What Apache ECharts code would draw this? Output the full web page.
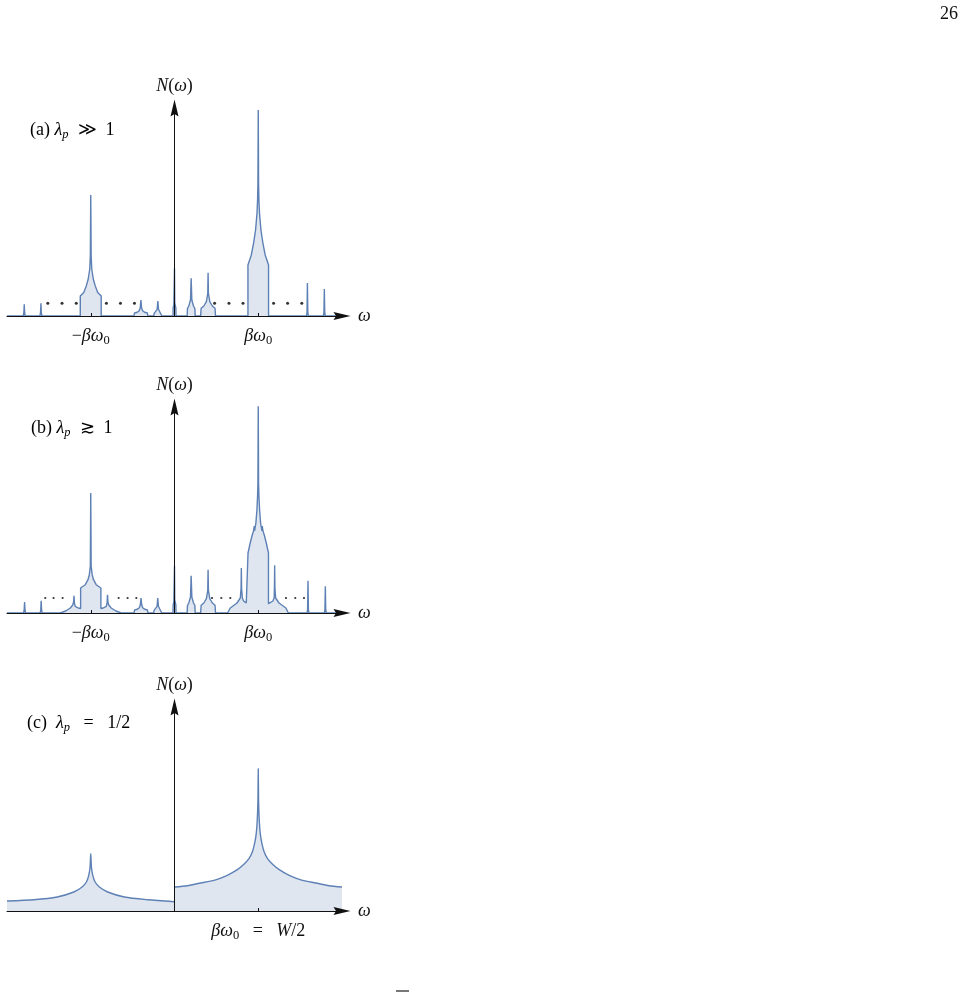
<!DOCTYPE html>
<html>
<head>
<meta charset="utf-8">
<script src="https://cdn.jsdelivr.net/npm/echarts@6/dist/echarts.min.js"></script>
<style>
html,body{margin:0;padding:0;background:#fff;}
#chart{width:966px;height:992px;}
</style>
</head>
<body>
<div id="chart"></div>
<script>
// ---------- data (omega in units of beta*omega0, N in arbitrary units) ----------
// Panel (a): lambda_p >> 1
var omegaA = [-2,
 -1.806,-1.799,-1.794,-1.789,-1.782,
 -1.607,-1.600,-1.595,-1.590,-1.583,
 -1.125,-1.125,-1.083,-1.054,-1.030,-1.012,-1.005,-1.000,-0.995,-0.988,-0.970,-0.946,-0.917,-0.875,-0.875,
 -0.484,-0.478,-0.445,-0.421,-0.409,-0.401,-0.393,-0.381,-0.357,-0.324,-0.318,
 -0.247,-0.243,-0.223,-0.207,-0.199,-0.191,-0.175,-0.155,-0.151,
 -0.018,-0.016,-0.008,-0.003,0,0.003,0.008,0.016,0.018,
 0.151,0.155,0.171,0.191,0.199,0.207,0.227,0.243,0.247,
 0.312,0.318,0.350,0.381,0.397,0.401,0.405,0.421,0.452,0.484,0.490,
 0.877,0.877,0.917,0.944,0.968,0.985,0.992,0.996,1.000,1.004,1.008,1.015,1.032,1.056,1.083,1.123,1.123,
 1.575,1.582,1.587,1.592,1.599,
 1.777,1.784,1.789,1.794,1.801,
 2];
var densityA = [0,
 0,3,11.7,3,0,
 0,3,12.7,3,0,
 0,20,23.5,30,37,47,60,121,60,47,37,30,23.5,20,0,
 0,3,3.7,5.3,8.3,16,8.3,5.3,3.7,3,0,
 0,2.7,4,6.7,15,6.7,4,2.7,0,
 0,8,11,13,47.7,13,11,8,0,
 0,7.7,10,16,37.7,16,10,7.7,0,
 0,7.7,10,14.3,22.7,43.3,22.7,14.3,10,7.7,0,
 0,51,61,72.7,86,102.7,116,132.7,206,132.7,116,102.7,86,72.7,61,51,0,
 0,3,33,3,0,
 0,3,27,3,0,
 0];
var dotOmegaA = [-1.513,-1.343,-1.173,-0.813,-0.645,-0.478,0.479,0.650,0.818,1.183,1.350,1.520];
var dotLevelA = 12.7;

// Panel (b): lambda_p >~ 1
var omegaB = [-2,
 -1.802,-1.795,-1.790,-1.785,-1.778,
 -1.604,-1.597,-1.592,-1.587,-1.580,
 -1.364,-1.300,-1.244,-1.215,-1.205,-1.200,-1.195,-1.185,-1.150,-1.121,-1.121,-1.065,-1.033,-1.017,-1.005,-1.000,
 -0.995,-0.983,-0.967,-0.935,-0.879,-0.879,-0.850,-0.815,-0.805,-0.800,-0.795,-0.785,-0.756,-0.700,-0.636,
 -0.483,-0.477,-0.444,-0.420,-0.408,-0.400,-0.392,-0.380,-0.356,-0.323,-0.317,
 -0.248,-0.244,-0.224,-0.208,-0.200,-0.192,-0.176,-0.156,-0.152,
 -0.018,-0.016,-0.008,-0.003,0,0.003,0.008,0.016,0.018,
 0.151,0.155,0.171,0.191,0.199,0.207,0.227,0.243,0.247,
 0.312,0.318,0.350,0.381,0.397,0.401,0.405,0.421,0.452,0.484,0.490,
 0.634,0.666,0.746,0.786,0.795,0.798,0.801,0.810,0.825,0.857,0.878,0.878,0.904,0.928,0.944,0.952,0.956,0.972,0.984,0.992,0.996,1.000,
 1.004,1.008,1.016,1.028,1.044,1.048,1.056,1.072,1.096,1.122,1.122,1.143,1.175,1.190,1.193,1.196,1.199,1.208,1.248,1.330,1.359,
 1.582,1.589,1.594,1.599,1.606,
 1.789,1.796,1.801,1.806,1.813,
 2];
var densityB = [0,
 0,3,11,3,0,
 0,3,12.3,3,0,
 0,2,5,8,11,17.3,10,6.7,5,4.5,25,28.3,33.3,38.3,46.7,120,
 46.7,38.3,33.3,28.3,25,4.5,5,6.7,10,18.3,11,8,5,2,0,
 0,3,3.7,5.3,8.3,15,8.3,5.3,3.7,3,0,
 0,2.7,4,6.7,15,6.7,4,2.7,0,
 0,8,11,13,47.3,13,11,8,0,
 0,7.7,10,16,37.3,16,10,7.7,0,
 0,7.7,10,14.3,22.7,43.3,22.7,14.3,10,7.7,0,
 0,5,10,15,25,45,25,15,12,10,9.3,60,70,78,82,87,82,90,103,117,130,207,
 130,117,103,90,82,87,82,78,70,60,9.3,10,12,15,25,47.7,25,15,10,5,0,
 0,3,32.3,3,0,
 0,3,26.7,3,0,
 0];
var dotOmegaB = [-1.543,-1.444,-1.336,-0.667,-0.560,-0.456,0.448,0.559,0.666,1.331,1.442,1.546];
var dotLevelB = 15;

// Panel (c): lambda_p = 1/2 (two branches, discontinuous at omega = 0)
var omegaCLeft = [-2,-1.679,-1.401,-1.202,-1.103,-1.052,-1.024,-1.008,-1.000,-0.992,-0.976,-0.948,-0.897,-0.798,-0.599,-0.321,0];
var densityCLeft = [10,11.3,14,19,24,29,35.7,44,57.3,44,35.7,29,24,19,14,11.3,9.3];
var omegaCRight = [0,0.155,0.313,0.472,0.631,0.750,0.829,0.889,0.929,0.956,0.976,0.988,0.996,1.000,
 1.004,1.012,1.024,1.044,1.071,1.111,1.171,1.250,1.369,1.528,1.687,1.845,2];
var densityCRight = [24,25.3,28,30.7,35.7,41.3,46.7,52.3,59,67.3,77.3,90.7,110.7,142.3,
 110.7,90.7,77.3,67.3,59,52.3,46.7,41.3,35.7,30.7,28,25.3,24];

// tick labels
var tickValuesAB = [-1, 1];
var tickTextAB = ['{r|\u2212}{i|\u03b2\u03c9}{s|0}', '{i|\u03b2\u03c9}{s|0}'];
var tickValuesC = [1];
var tickTextC = ['{i|\u03b2\u03c9}{s|0}{r|   =   }{i|W}{r|/2}'];
var panelLabels = ['{r|(a) }{i|\u03bb}{sp|p}{r|  \u226b  1}', '{r|(b) }{i|\u03bb}{sp|p}{r|  \u2273  1}', '{r|(c)  }{i|\u03bb}{sp|p}{r|   =   1/2}'];

// ---------- styling / layout ----------
var SERIF = '"Liberation Serif","DejaVu Serif",serif';
var LINE = '#5E81B5';
var ARROW = 'path://M4,0 L8,17 L4,14.5 L0,17 Z';
var rich = {
  r: {fontFamily: SERIF, fontSize: 18, color: '#111', lineHeight: 22},
  i: {fontFamily: SERIF, fontSize: 18, fontStyle: 'italic', color: '#111', lineHeight: 22},
  s: {fontFamily: SERIF, fontSize: 12.5, color: '#111', lineHeight: 13, verticalAlign: 'bottom'},
  sp: {fontFamily: SERIF, fontSize: 12.5, fontStyle: 'italic', color: '#111', lineHeight: 13, verticalAlign: 'bottom'}
};
var grids = [
  {left: 7, width: 335, top: 108, height: 208},
  {left: 7, width: 335, top: 407, height: 206},
  {left: 7, width: 335, top: 707, height: 204}
];
function zip(xs, ys) { return xs.map(function (x, i) { return [x, ys[i]]; }); }

function makeX(idx, vals, texts) {
  return {
    type: 'value', gridIndex: idx, min: -2, max: 2, z: 5,
    name: '{i|\u03c9}', nameLocation: 'end', nameGap: 16,
    nameTextStyle: {rich: rich, verticalAlign: 'middle'},
    axisLine: {show: true, onZero: true, symbol: ['none', ARROW], symbolSize: [8, 17], symbolOffset: [0, 0],
      lineStyle: {color: '#111', width: 1}},
    axisTick: {show: true, inside: true, length: 3, customValues: vals, lineStyle: {color: '#111', width: 1}},
    axisLabel: {show: true, customValues: vals, margin: 9, rich: rich,
      formatter: function (v) { var k = vals.indexOf(v); return k >= 0 ? texts[k] : ''; }},
    splitLine: {show: false}
  };
}
function makeY(idx, h) {
  return {
    type: 'value', gridIndex: idx, min: 0, max: h, z: 5,
    name: '{i|N}{r|(}{i|\u03c9}{r|)}', nameLocation: 'end', nameGap: 11,
    nameTextStyle: {rich: rich},
    axisLine: {show: true, onZero: true, symbol: ['none', ARROW], symbolSize: [8, 17], symbolOffset: [0, 0],
      lineStyle: {color: '#111', width: 1}},
    axisTick: {show: false}, axisLabel: {show: false}, splitLine: {show: false}
  };
}
function areaSeries(idx, data, smooth) {
  return {
    type: 'line', xAxisIndex: idx, yAxisIndex: idx, data: data, showSymbol: false, silent: true,
    smooth: smooth ? 0.25 : false,
    lineStyle: {color: LINE, width: 1.4}, areaStyle: {color: LINE, opacity: 0.2}, z: 2
  };
}
function dotSeries(idx, xs, level, size) {
  return {
    type: 'scatter', xAxisIndex: idx, yAxisIndex: idx, silent: true, symbolSize: size,
    itemStyle: {color: '#000'}, data: xs.map(function (x) { return [x, level]; }), z: 3
  };
}

var option = {
  animation: false,
  backgroundColor: '#fff',
  grid: grids.map(function (g) { return Object.assign({containLabel: false, outerBoundsMode: 'none'}, g); }),
  xAxis: [makeX(0, tickValuesAB, tickTextAB), makeX(1, tickValuesAB, tickTextAB), makeX(2, tickValuesC, tickTextC)],
  yAxis: [makeY(0, grids[0].height), makeY(1, grids[1].height), makeY(2, grids[2].height)],
  series: [
    areaSeries(0, zip(omegaA, densityA), false),
    dotSeries(0, dotOmegaA, dotLevelA, 3),
    areaSeries(1, zip(omegaB, densityB), false),
    dotSeries(1, dotOmegaB, dotLevelB, 2.2),
    areaSeries(2, zip(omegaCLeft, densityCLeft), true),
    areaSeries(2, zip(omegaCRight, densityCRight), true)
  ],
  graphic: [
    {type: 'text', left: 30, top: 121, style: {text: panelLabels[0], rich: rich}},
    {type: 'text', left: 31, top: 419, style: {text: panelLabels[1], rich: rich}},
    {type: 'text', left: 27, top: 714, style: {text: panelLabels[2], rich: rich}},
    {type: 'text', left: 940, top: 5, style: {text: '26', font: '18px ' + SERIF, fill: '#111'}},
    {type: 'rect', shape: {x: 396, y: 990, width: 13, height: 2}, style: {fill: '#777'}}
  ]
};
var chart = echarts.init(document.getElementById('chart'), null, {renderer: 'canvas'});
chart.setOption(option);
</script>
</body>
</html>
